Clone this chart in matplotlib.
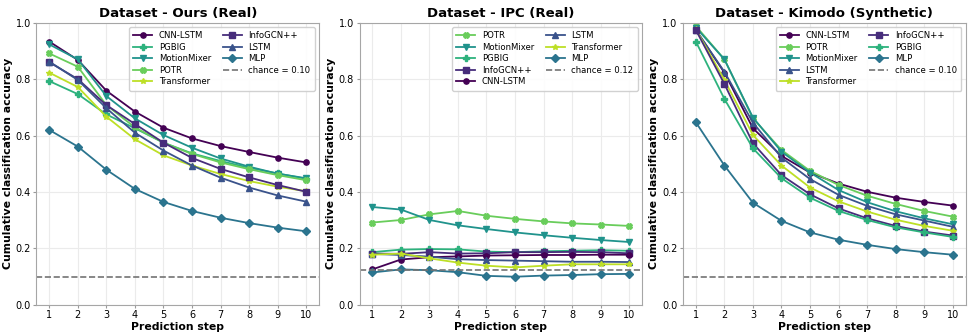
import numpy as np
import matplotlib.pyplot as plt

steps = np.arange(1, 11)

models = ["CNN-LSTM", "InfoGCN++", "LSTM", "MLP", "MotionMixer", "PGBIG", "POTR", "Transformer"]
markers = {"CNN-LSTM": "o", "InfoGCN++": "s", "LSTM": "^", "MLP": "D",
           "MotionMixer": "v", "PGBIG": "P", "POTR": "X", "Transformer": "*"}

# Dataset - Ours (Real)
ours = {
    "CNN-LSTM":    [0.933, 0.868, 0.759, 0.685, 0.628, 0.590, 0.563, 0.542, 0.522, 0.505],
    "PGBIG":       [0.793, 0.747, 0.675, 0.626, 0.575, 0.537, 0.510, 0.486, 0.466, 0.447],
    "MotionMixer": [0.923, 0.870, 0.740, 0.661, 0.602, 0.557, 0.519, 0.490, 0.465, 0.449],
    "POTR":        [0.891, 0.844, 0.708, 0.629, 0.575, 0.535, 0.505, 0.481, 0.460, 0.442],
    "Transformer": [0.823, 0.772, 0.667, 0.587, 0.530, 0.494, 0.464, 0.439, 0.419, 0.403],
    "InfoGCN++":   [0.860, 0.800, 0.708, 0.641, 0.575, 0.521, 0.482, 0.452, 0.425, 0.401],
    "LSTM":        [0.862, 0.797, 0.697, 0.610, 0.547, 0.494, 0.451, 0.416, 0.388, 0.366],
    "MLP":         [0.620, 0.561, 0.479, 0.411, 0.365, 0.333, 0.309, 0.290, 0.274, 0.261],
}

# Dataset - IPC (Real)
ipc = {
    "POTR":        [0.292, 0.301, 0.321, 0.333, 0.316, 0.305, 0.296, 0.289, 0.285, 0.280],
    "MotionMixer": [0.347, 0.338, 0.301, 0.282, 0.269, 0.257, 0.247, 0.238, 0.230, 0.223],
    "PGBIG":       [0.187, 0.196, 0.198, 0.197, 0.189, 0.187, 0.190, 0.192, 0.194, 0.192],
    "InfoGCN++":   [0.182, 0.181, 0.187, 0.182, 0.183, 0.187, 0.187, 0.188, 0.187, 0.183],
    "CNN-LSTM":    [0.126, 0.161, 0.169, 0.172, 0.175, 0.176, 0.177, 0.177, 0.178, 0.178],
    "LSTM":        [0.181, 0.177, 0.171, 0.162, 0.159, 0.157, 0.155, 0.153, 0.153, 0.152],
    "Transformer": [0.178, 0.182, 0.165, 0.150, 0.139, 0.133, 0.139, 0.144, 0.144, 0.144],
    "MLP":         [0.115, 0.126, 0.123, 0.116, 0.103, 0.100, 0.104, 0.106, 0.109, 0.110],
}

# Dataset - Kimodo (Synthetic)
kimodo = {
    "CNN-LSTM":    [0.974, 0.823, 0.626, 0.528, 0.469, 0.430, 0.401, 0.380, 0.365, 0.352],
    "POTR":        [0.988, 0.870, 0.661, 0.549, 0.475, 0.425, 0.387, 0.358, 0.333, 0.313],
    "MotionMixer": [0.983, 0.870, 0.664, 0.543, 0.469, 0.407, 0.364, 0.332, 0.307, 0.286],
    "LSTM":        [0.974, 0.826, 0.646, 0.522, 0.446, 0.390, 0.351, 0.321, 0.299, 0.277],
    "Transformer": [0.976, 0.797, 0.602, 0.494, 0.416, 0.367, 0.331, 0.302, 0.280, 0.263],
    "InfoGCN++":   [0.974, 0.783, 0.573, 0.460, 0.392, 0.342, 0.307, 0.280, 0.260, 0.246],
    "PGBIG":       [0.933, 0.730, 0.555, 0.449, 0.380, 0.333, 0.301, 0.275, 0.257, 0.241],
    "MLP":         [0.647, 0.494, 0.362, 0.298, 0.257, 0.231, 0.213, 0.198, 0.187, 0.178],
}

panels = [("Dataset - Ours (Real)", ours, 0.10),
          ("Dataset - IPC (Real)", ipc, 0.125),
          ("Dataset - Kimodo (Synthetic)", kimodo, 0.10)]

cmap = plt.get_cmap("viridis")
colors = {m: cmap(v) for m, v in zip(models, np.linspace(0, 0.9, len(models)))}

fig = plt.figure(figsize=(9.73, 3.34), dpi=100)
lefts = [0.0375, 0.3695, 0.702]

for left, (title, data, chance) in zip(lefts, panels):
    ax = fig.add_axes([left, 0.087, 0.2903, 0.845])
    for name, vals in data.items():
        ax.plot(steps, vals, marker=markers[name], color=colors[name], lw=1.3,
                ms=3.8, label=name)
    ax.axhline(chance, color="0.45", ls="--", lw=1.2, label=f"chance = {chance:.2f}")
    ax.set_ylim(0, 1.0)
    ax.set_xticks(steps)
    ax.set_title(title, fontsize=9.5, fontweight="bold", pad=4)
    ax.set_xlabel("Prediction step", fontsize=7.8, fontweight="bold", labelpad=1)
    ax.set_ylabel("Cumulative classification accuracy", fontsize=7.8, fontweight="bold", labelpad=2)
    ax.tick_params(labelsize=7, length=2.5, pad=1.5, color="0.6")
    ax.grid(True, color="0.92", lw=0.8)
    for s in ax.spines.values():
        s.set_color("0.65")
    ax.legend(ncol=2, fontsize=6.1, loc="upper right", handlelength=2.2,
              columnspacing=1.4, labelspacing=0.3, borderpad=0.5, framealpha=0.9)

fig.savefig("out.png", dpi=100)
